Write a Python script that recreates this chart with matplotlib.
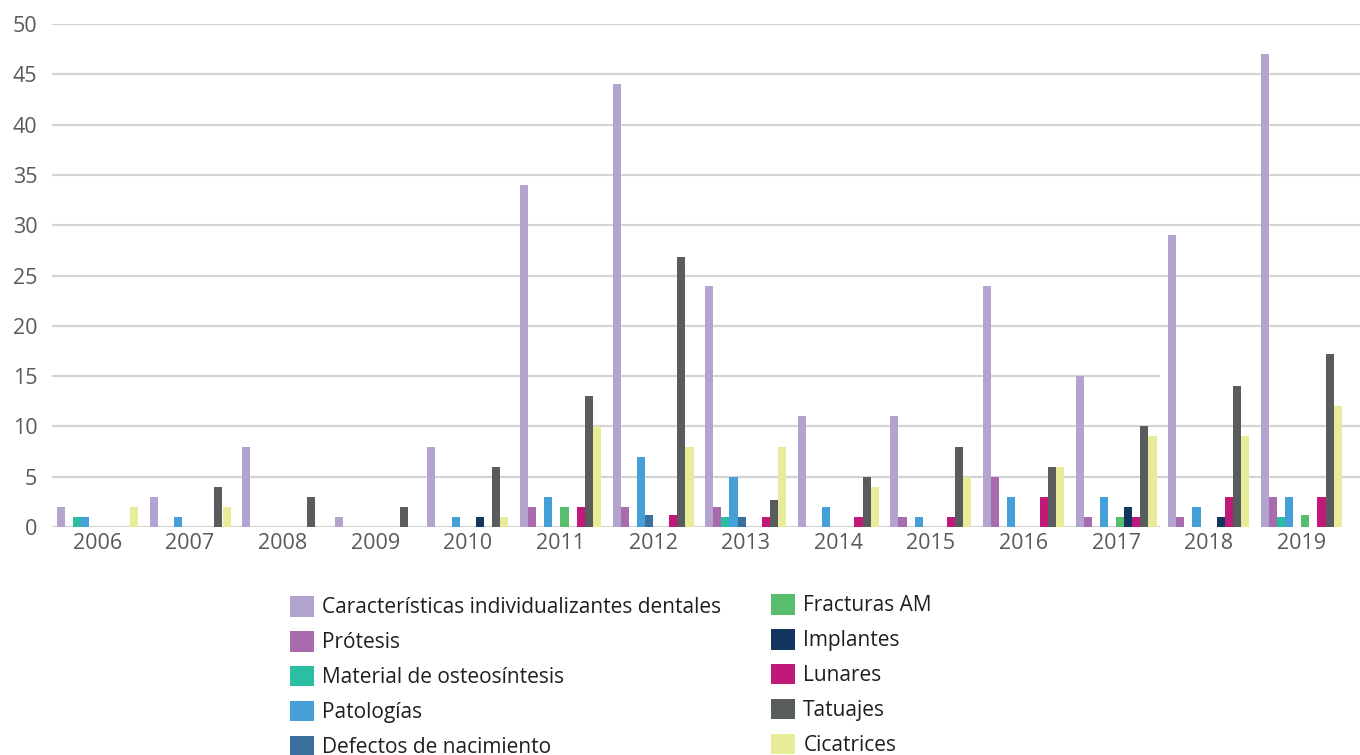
import matplotlib
matplotlib.use("Agg")
import matplotlib.pyplot as plt
import numpy as np

years = ["2006", "2007", "2008", "2009", "2010", "2011", "2012",
         "2013", "2014", "2015", "2016", "2017", "2018", "2019"]

series_names = [
    "Características individualizantes dentales",
    "Prótesis",
    "Material de osteosíntesis",
    "Patologías",
    "Defectos de nacimiento",
    "Fracturas AM",
    "Implantes",
    "Lunares",
    "Tatuajes",
    "Cicatrices",
]

caracteristicas = [2, 3, 8, 1, 8, 34, 44, 24, 11, 11, 24, 15, 29, 47]
protesis        = [0, 0, 0, 0, 0, 2, 2, 2, 0, 1, 5, 1, 1, 3]
osteosintesis   = [1, 0, 0, 0, 0, 0, 0, 1, 0, 0, 0, 0, 0, 1]
patologias      = [1, 1, 0, 0, 1, 3, 7, 5, 2, 1, 3, 3, 2, 3]
defectos        = [0, 0, 0, 0, 0, 0, 1.2, 1, 0, 0, 0, 0, 0, 0]
fracturas       = [0, 0, 0, 0, 0, 2, 0, 0, 0, 0, 0, 1, 0, 1.2]
implantes       = [0, 0, 0, 0, 1, 0, 0, 0, 0, 0, 0, 2, 1, 0]
lunares         = [0, 0, 0, 0, 0, 2, 1.2, 1, 1, 1, 3, 1, 3, 3]
tatuajes        = [0, 4, 3, 2, 6, 13, 26.8, 2.7, 5, 8, 6, 10, 14, 17.2]
cicatrices      = [2, 2, 0, 0, 1, 10, 8, 8, 4, 5, 6, 9, 9, 12]

values = [caracteristicas, protesis, osteosintesis, patologias, defectos,
          fracturas, implantes, lunares, tatuajes, cicatrices]

colors = ["#B3A3CF", "#A86CAE", "#2BBEA2", "#45A0D8", "#3B6F9D",
          "#58BD6D", "#12365D", "#C0197A", "#595C5D", "#E8EB97"]

yticks = [0, 5, 10, 15, 20, 25, 30, 35, 40, 45, 50]

W, H = 1360, 755
fig = plt.figure(figsize=(W / 100, H / 100), dpi=100)
ax_left, ax_right = 51.2, 1360
ax_bottom, ax_top = 527, 24
ax = fig.add_axes([ax_left / W, 1 - ax_bottom / H,
                   (ax_right - ax_left) / W, (ax_bottom - ax_top) / H])

cat_px = 92.6
x = np.arange(len(years))
bw = 8.1 / cat_px
n = len(values)
handles = []
for i, (vals, col) in enumerate(zip(values, colors)):
    v = np.array(vals, dtype=float)
    offs = (i - (n - 1) / 2) * bw
    bars = ax.bar(x + offs, v, width=bw, color=col, linewidth=0, zorder=3,
                  label=series_names[i])
    handles.append(bars)

ax.set_xlim(-0.5, -0.5 + (ax_right - ax_left) / cat_px)
ax.set_ylim(0, 50)

# gridlines (two of them are cut short in the original image)
cut = (1159 - ax_left) / (ax_right - ax_left)
for yv in yticks:
    xmax = cut if yv in (0, 15) else 1.0
    ax.axhline(yv, xmin=0.0015, xmax=xmax, color="#D4D4D4", lw=1.6, zorder=1)

for s in ax.spines.values():
    s.set_visible(False)

ax.set_xticks(x)
ax.set_xticklabels(years)
ax.set_yticks(yticks)
ax.set_yticklabels([str(t) for t in yticks])
ax.tick_params(axis="both", length=0, labelsize=15.5, labelcolor="#595959")
ax.tick_params(axis="x", pad=4.5)
ax.tick_params(axis="y", pad=10)
for lab in ax.get_xticklabels() + ax.get_yticklabels():
    lab.set_fontfamily(["Open Sans", "DejaVu Sans"])

leg_kw = dict(frameon=False, loc="upper left", borderpad=0, borderaxespad=0,
              handlelength=1.15, handleheight=1.15, handletextpad=0.4,
              labelspacing=0.6,
              prop={"family": ["Open Sans", "DejaVu Sans"], "size": 15})
leg1 = fig.legend(handles[:5], series_names[:5],
                  bbox_to_anchor=(290 / W, 1 - 596 / H), **leg_kw)
for t in leg1.get_texts():
    t.set_color("#1F1F1F")
leg2 = fig.legend(handles[5:], series_names[5:],
                  bbox_to_anchor=(771 / W, 1 - 594 / H), **leg_kw)
for t in leg2.get_texts():
    t.set_color("#1F1F1F")

fig.savefig("out.png", dpi=100, facecolor="white")
